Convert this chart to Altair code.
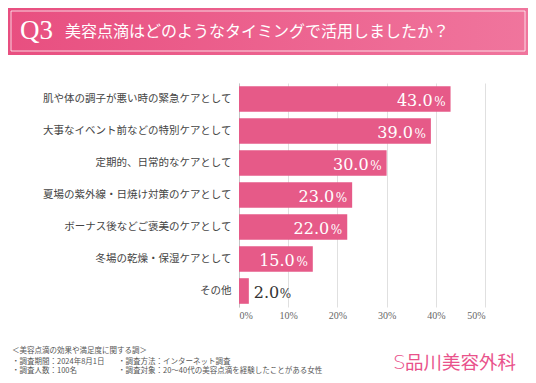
import altair as alt
import pandas as pd

categories = [
    "肌や体の調子が悪い時の緊急ケアとして",
    "大事なイベント前などの特別ケアとして",
    "定期的、日常的なケアとして",
    "夏場の紫外線・日焼け対策のケアとして",
    "ボーナス後などご褒美のケアとして",
    "冬場の乾燥・保湿ケアとして",
    "その他",
]
values = [43.0, 39.0, 30.0, 23.0, 22.0, 15.0, 2.0]
x_ticks = [0, 10, 20, 30, 40, 50]

title_q = "Q3"
title_text = "美容点滴はどのようなタイミングで活用しましたか？"
footer_lines = [
    ("＜美容点滴の効果や満足度に関する調＞", 4, 343),
    ("・調査期間：2024年8月1日", 4, 353.5),
    ("・調査方法：インターネット調査", 110, 353.5),
    ("・調査人数：100名", 4, 363),
    ("・調査対象：20〜40代の美容点滴を経験したことがある女性", 110, 363),
]
logo = "品川美容外科"

df = pd.DataFrame({
    "cat": categories,
    "val": values,
    "num": [f"{v:.1f}" for v in values],
    "pct": ["%"] * len(values),
})
inside = df[df["val"] >= 5]
outside = df[df["val"] < 5]

PL, PT = 231, 75
W, H = 246, 224
BAR = "#e65a88"
SERIF = "DejaVu Serif"
CJK = "Noto Sans CJK JP"

yenc = alt.Y(
    "cat:N", sort=categories, title=None,
    scale=alt.Scale(paddingInner=0.2, paddingOuter=0.1),
    axis=alt.Axis(domain=True, domainColor="#c4c4c4", ticks=False,
                  labelFont=CJK, labelFontSize=10.5, labelColor="#444444",
                  labelPadding=8, labelLimit=400, grid=False),
)
xenc = alt.X(
    "val:Q", title=None,
    scale=alt.Scale(domain=[0, 50], nice=False),
    axis=alt.Axis(values=x_ticks, labelExpr="datum.value + '%'", domain=False,
                  ticks=False, grid=True, gridColor="#e0e0e0",
                  labelFont="Liberation Serif", labelFontSize=10,
                  labelColor="#666666", labelPadding=3),
)

bars = alt.Chart(df).mark_bar(color=BAR).encode(x=xenc, y=yenc)

num_in = alt.Chart(inside).mark_text(
    align="right", baseline="alphabetic", dx=-18, dy=7, fontSize=16,
    font=SERIF, color="white").encode(x="val:Q", y=alt.Y("cat:N", sort=categories), text="num:N")
pct_in = alt.Chart(inside).mark_text(
    align="right", baseline="alphabetic", dx=-5, dy=7, fontSize=12,
    font=SERIF, color="white").encode(x="val:Q", y=alt.Y("cat:N", sort=categories), text="pct:N")
num_out = alt.Chart(outside).mark_text(
    align="left", baseline="alphabetic", dx=5, dy=7, fontSize=16,
    font=SERIF, color="#333333").encode(x="val:Q", y=alt.Y("cat:N", sort=categories), text="num:N")
pct_out = alt.Chart(outside).mark_text(
    align="left", baseline="alphabetic", dx=31, dy=7, fontSize=12,
    font=SERIF, color="#333333").encode(x="val:Q", y=alt.Y("cat:N", sort=categories), text="pct:N")

one = pd.DataFrame({"k": [0]})

header = alt.Chart(one).mark_rect(
    fill=alt.Gradient(gradient="linear",
                      stops=[alt.GradientStop(color="#e84f80", offset=0),
                             alt.GradientStop(color="#f0759d", offset=1)],
                      x1=0, x2=1, y1=0, y2=0)
).encode(x=alt.value(-PL), x2=alt.value(520 - PL), y=alt.value(-PT), y2=alt.value(47 - PT))

border = alt.Chart(one).mark_rect(
    fillOpacity=0, stroke="white", strokeWidth=1, strokeOpacity=0.75
).encode(x=alt.value(3 - PL), x2=alt.value(517 - PL), y=alt.value(3 - PT), y2=alt.value(43 - PT))

q_text = alt.Chart(pd.DataFrame({"t": [title_q]})).mark_text(
    align="left", baseline="middle", font="Liberation Serif", fontSize=27, color="white"
).encode(x=alt.value(12 - PL), y=alt.value(23 - PT), text="t:N")

t_text = alt.Chart(pd.DataFrame({"t": [title_text]})).mark_text(
    align="left", baseline="middle", font=CJK, fontSize=16, color="white"
).encode(x=alt.value(57 - PL), y=alt.value(24 - PT), text="t:N")

footer_layers = []
for txt, fx, fy in footer_lines:
    footer_layers.append(
        alt.Chart(pd.DataFrame({"t": [txt]})).mark_text(
            align="left", baseline="middle", font=CJK, fontSize=7.5, color="#555555"
        ).encode(x=alt.value(fx - PL), y=alt.value(fy - PT), text="t:N")
    )

logo_s = alt.Chart(pd.DataFrame({"t": ["S"]})).mark_text(
    align="left", baseline="middle", font="DejaVu Sans", fontSize=20, color="#e9528b",
    fontWeight=300
).encode(x=alt.value(385 - PL), y=alt.value(355 - PT), text="t:N")
logo_t = alt.Chart(pd.DataFrame({"t": [logo]})).mark_text(
    align="left", baseline="middle", font=CJK, fontSize=18.5, color="#e9528b"
).encode(x=alt.value(397 - PL), y=alt.value(355 - PT), text="t:N")

chart = alt.layer(
    header, border, q_text, t_text,
    bars, num_in, pct_in, num_out, pct_out,
    *footer_layers, logo_s, logo_t,
).properties(
    width=W, height=H,
    autosize=alt.AutoSizeParams(type="none"),
    padding={"left": PL, "top": PT, "right": 520 - PL - W, "bottom": 367 - PT - H},
).configure_view(stroke=None)

chart.save("out.html", embed_options={"renderer": "svg", "actions": False})
